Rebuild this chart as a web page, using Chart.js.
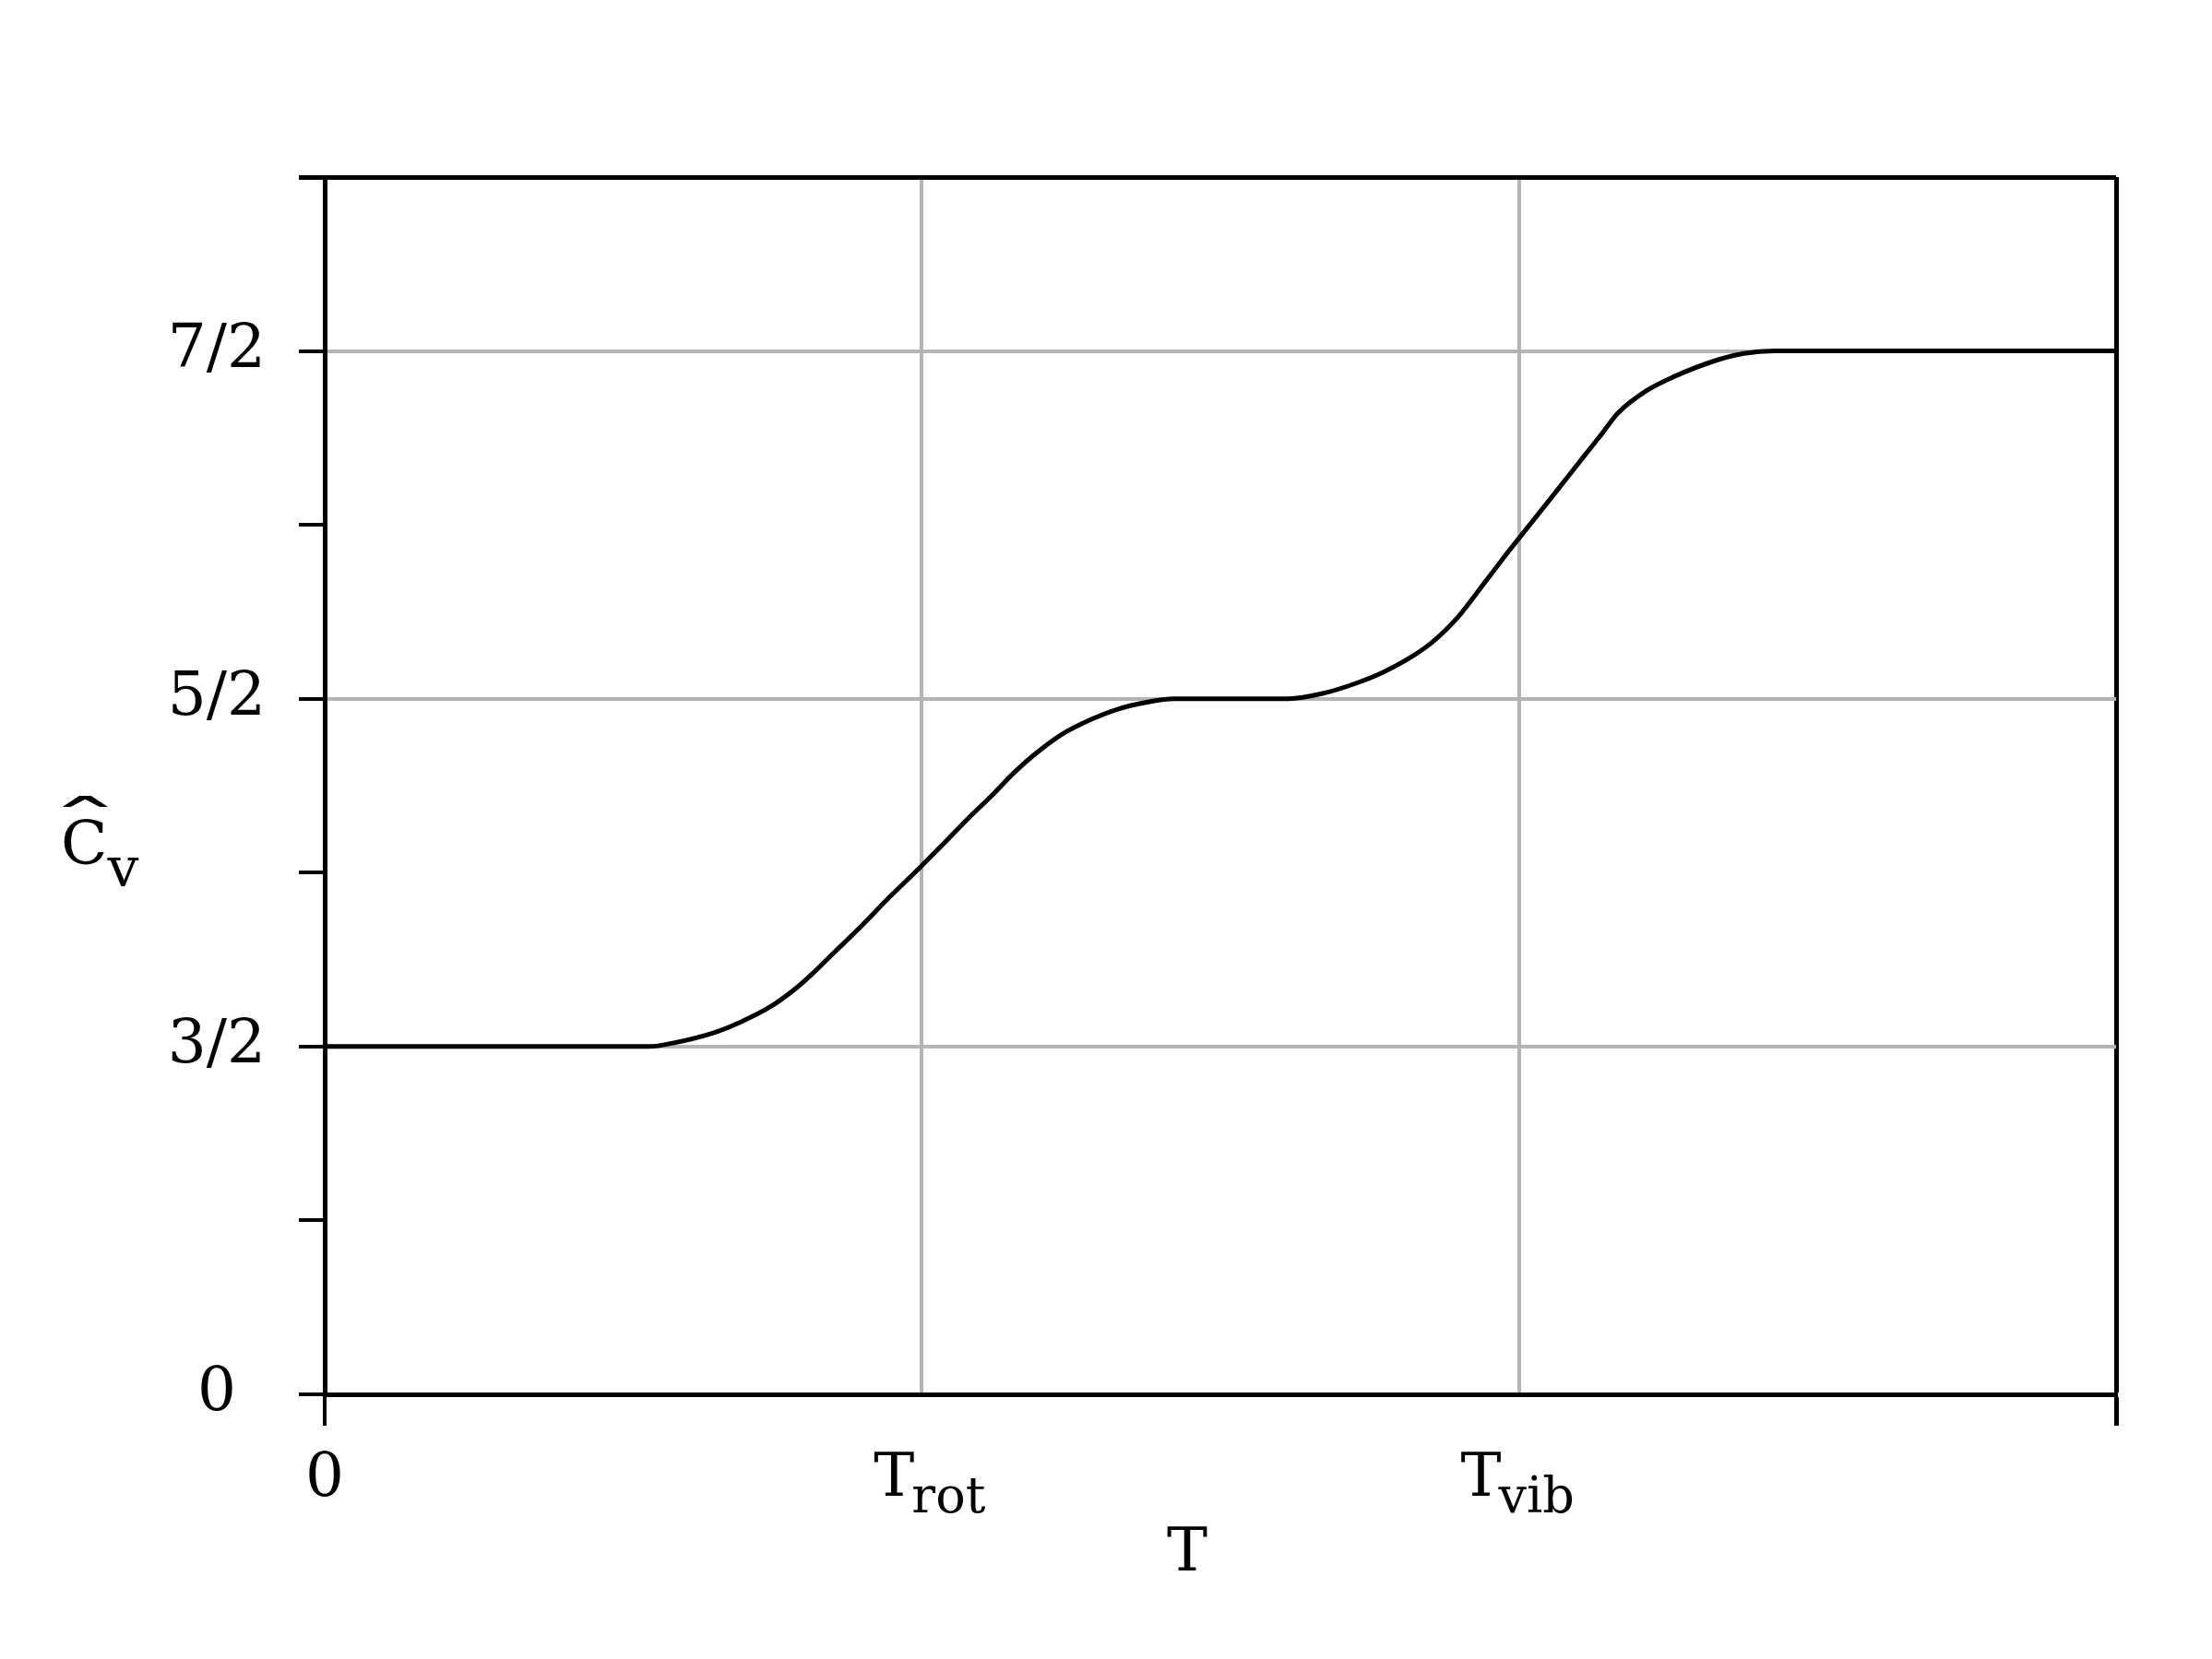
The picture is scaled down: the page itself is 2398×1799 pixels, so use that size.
<!DOCTYPE html>
<html>
<head>
<meta charset="utf-8">
<script src="https://cdn.jsdelivr.net/npm/chart.js@4.4.1/dist/chart.umd.min.js"></script>
<style>
  html, body { margin: 0; padding: 0; background: #fff; }
  #wrap { width: 2398px; height: 1799px; }
</style>
</head>
<body>
<div id="wrap"><canvas id="cvChart"></canvas></div>
<script>
// temperature in units where T_rot = 1, T_vib = 2
const temps = [0, 0.544, 0.583, 0.652, 0.696, 0.747, 0.791, 0.816, 0.853, 0.892,
  0.949, 1.0, 1.043, 1.080, 1.119, 1.156, 1.189, 1.232, 1.283, 1.328,
  1.377, 1.422, 1.614, 1.671, 1.728, 1.771, 1.810, 1.853, 1.898, 1.943,
  1.980, 1.997, 2.031, 2.068, 2.107, 2.138, 2.165, 2.213, 2.258, 2.334,
  2.377, 2.428, 3];
const cv = [1.5, 1.5, 1.51, 1.54, 1.57, 1.615, 1.67, 1.708, 1.77, 1.835,
  1.935, 2.02, 2.095, 2.16, 2.225, 2.29, 2.34, 2.395, 2.44, 2.47,
  2.49, 2.5, 2.5, 2.515, 2.545, 2.575, 2.61, 2.66, 2.735, 2.835,
  2.918, 2.955, 3.028, 3.108, 3.193, 3.26, 3.32, 3.385, 3.425, 3.475,
  3.493, 3.5, 3.5];

// y axis is not linear: these values sit at equally spaced positions
const yTickValues = [0, 1.5, 2.5, 3.5];
const yTickLabels = ["0", "3/2", "5/2", "7/2"];
const yTickPos = [0, 2, 4, 6];

const xTickPos = [0, 1, 2];
const xTickLabels = [["0", ""], ["T", "rot"], ["T", "vib"]];

const FONT = '"DejaVu Serif", serif';
const GRID = "#b4b4b4";

function toAxis(v) {
  for (let i = 1; i < yTickValues.length; i++) {
    if (v <= yTickValues[i]) {
      const a = yTickValues[i - 1], b = yTickValues[i];
      return yTickPos[i - 1] + (v - a) / (b - a) * (yTickPos[i] - yTickPos[i - 1]);
    }
  }
  return yTickPos[yTickPos.length - 1];
}

// x tick labels with subscripts and the axis titles
const labelPlugin = {
  id: "labels",
  afterDraw(chart) {
    const ctx = chart.ctx;
    const area = chart.chartArea;
    const xs = chart.scales.x;
    ctx.save();
    ctx.fillStyle = "#000";
    ctx.textBaseline = "alphabetic";
    ctx.textAlign = "left";
    const base = area.bottom + 110;
    xTickLabels.forEach((lab, i) => {
      ctx.font = "66px " + FONT;
      const w1 = ctx.measureText(lab[0]).width;
      ctx.font = "54px " + FONT;
      const w2 = lab[1] ? ctx.measureText(lab[1]).width : 0;
      const x = xs.getPixelForValue(xTickPos[i]) - (w1 + w2) / 2 + (i === 1 ? 10 : 0);
      ctx.font = "66px " + FONT;
      ctx.fillText(lab[0], x, base);
      if (lab[1]) {
        ctx.font = "54px " + FONT;
        ctx.fillText(lab[1], x + w1 - 3, base + 18);
      }
    });

    // x title
    ctx.font = "66px " + FONT;
    ctx.textAlign = "center";
    ctx.fillText("T", (area.left + area.right) / 2 - 36, area.bottom + 191);

    // y title: C with a wide hat, subscript v
    ctx.textAlign = "left";
    const tx = area.left - 286, ty = area.top + 745;
    ctx.fillText("C", tx, ty);
    const wc = ctx.measureText("C").width;
    ctx.save();
    ctx.translate(tx + wc / 2 + 1, ty - 22);
    ctx.scale(2.4, 1);
    ctx.textAlign = "center";
    ctx.fillText("\u02C6", 0, 0);
    ctx.restore();
    ctx.font = "60px " + FONT;
    ctx.fillText("v", tx + wc, ty + 24);
    ctx.restore();
  }
};

const ctx = document.getElementById("cvChart").getContext("2d");
const cvChart = new Chart(ctx, {
  type: "line",
  data: {
    datasets: [
      {
        data: temps.map((t, i) => ({ x: t, y: toAxis(cv[i]) })),
        borderColor: "#000",
        borderWidth: 5,
        pointRadius: 0,
        cubicInterpolationMode: "monotone",
        fill: false,
      },
    ],
  },
  options: {
    responsive: true,
    maintainAspectRatio: false,
    animation: false,
    layout: {
      padding: { top: 192, right: 104, left: 0, bottom: 0 },
    },
    scales: {
      x: {
        type: "linear",
        min: 0,
        max: 3,
        afterFit: (scale) => { scale.height = 287; },
        ticks: { stepSize: 1, display: false },
        grid: {
          lineWidth: (c) => (c.tick.value === 3 ? 5 : 4),
          tickLength: 34,
          color: (c) => (c.tick.value === 3 ? "#000" : (c.tick.value === 1 || c.tick.value === 2) ? GRID : "rgba(0,0,0,0)"),
          tickColor: (c) => (c.tick.value === 0 || c.tick.value === 3 ? "#000" : "rgba(0,0,0,0)"),
        },
        border: { color: "#000", width: 5 },
      },
      y: {
        type: "linear",
        min: 0,
        max: 7,
        afterFit: (scale) => { scale.width = 352; },
        ticks: {
          stepSize: 1,
          autoSkip: false,
          padding: 36,
          crossAlign: "center",
          color: "#000",
          font: { family: "DejaVu Serif", size: 66 },
          callback: (value) => {
            const i = yTickPos.indexOf(value);
            return i >= 0 ? yTickLabels[i] : "";
          },
        },
        grid: {
          lineWidth: (c) => (c.tick.value === 7 ? 5 : 4),
          tickLength: 28,
          color: (c) => (c.tick.value === 7 ? "#000" : (c.tick.value === 2 || c.tick.value === 4 || c.tick.value === 6) ? GRID : "rgba(0,0,0,0)"),
          tickColor: "#000",
        },
        border: { color: "#000", width: 5 },
      },
    },
    plugins: {
      legend: { display: false },
      tooltip: { enabled: false },
    },
  },
  plugins: [labelPlugin],
});
</script>
</body>
</html>
